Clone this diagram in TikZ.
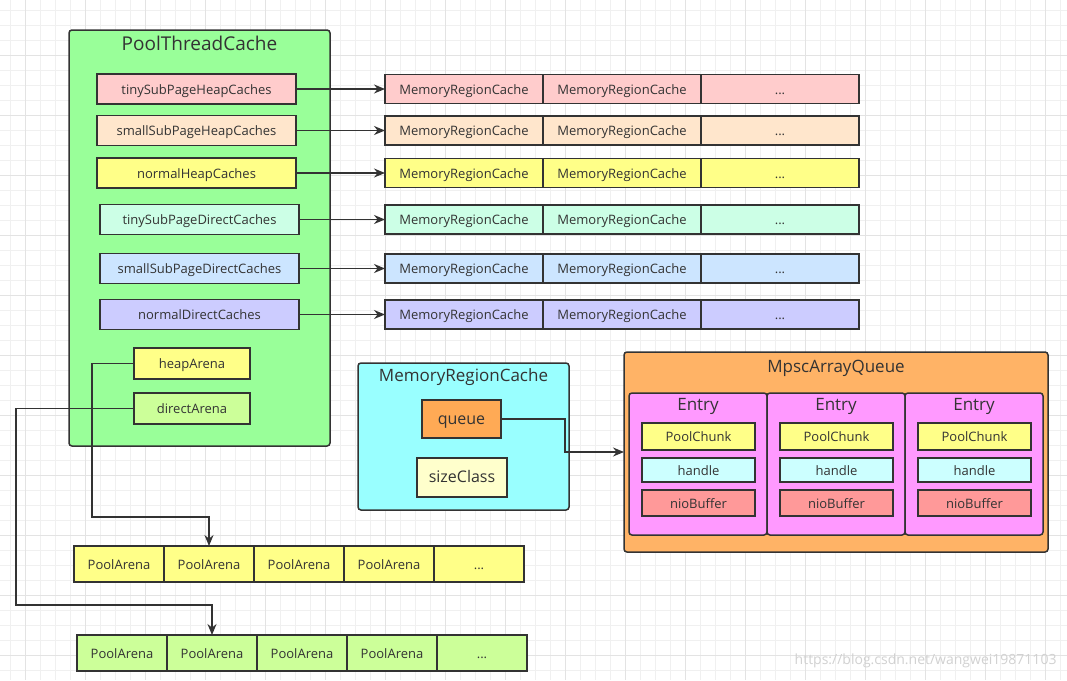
\documentclass[tikz,border=0pt]{standalone}
\usepackage{fontspec}
\setmainfont{Open Sans}
\usetikzlibrary{arrows.meta}

\definecolor{ink}{HTML}{333333}
\definecolor{gridminor}{HTML}{F0F0F0}
\definecolor{gridmajor}{HTML}{E3E3E3}
\definecolor{ptcgreen}{HTML}{99FF99}
\definecolor{tinyheap}{HTML}{FFCCCC}
\definecolor{smallheap}{HTML}{FFE6CC}
\definecolor{normyellow}{HTML}{FFFF88}
\definecolor{tinydirect}{HTML}{CCFFE6}
\definecolor{smalldirect}{HTML}{CCE5FF}
\definecolor{normdirect}{HTML}{CCCCFF}
\definecolor{arenagreen}{HTML}{CCFF99}
\definecolor{mrccyan}{HTML}{99FFFF}
\definecolor{queueorange}{HTML}{FFAA55}
\definecolor{mpscorange}{HTML}{FFB366}
\definecolor{entrypink}{HTML}{FF99FF}
\definecolor{handlecyan}{HTML}{CCFFFF}
\definecolor{niored}{HTML}{FF9999}
\definecolor{sizecream}{HTML}{FFFFCC}

\begin{document}
\begin{tikzpicture}[x=1pt, y=-1pt, >={Stealth[length=11pt,width=9pt]}, font=\fontsize{13}{15}\selectfont, text=ink]

\tikzset{
  base/.style={draw=ink, line width=1.5pt, anchor=north west, inner sep=0pt, outer sep=0pt, text height=1em, text depth=0em},
  fbox/.style={base, minimum width=199pt, minimum height=30pt},
  cell/.style={base, minimum width=158pt, minimum height=29pt},
  arena/.style={base, minimum width=90pt, minimum height=36pt},
  group/.style={base, rounded corners=3pt},
  slot/.style={base, minimum width=113pt},
  ttl/.style={font=\fontsize{17}{20}\selectfont, text height=0.86em, text depth=0.14em},
  arr/.style={->, draw=ink, line width=1.5pt}
}

% --- Fundo com grelha ---
\useasboundingbox (0,0) rectangle (1067,680);
\fill[white] (0,0) rectangle (1067,680);
\foreach \gx in {0,...,70} \draw[gridminor, line width=0.8pt] ({10.7+15*\gx},0) -- ({10.7+15*\gx},680);
\foreach \gy in {0,...,44} \draw[gridminor, line width=0.8pt] (0,{10.5+15*\gy}) -- (1067,{10.5+15*\gy});
\foreach \gx in {0,...,17} \draw[gridmajor, line width=0.8pt] ({25.7+60*\gx},0) -- ({25.7+60*\gx},680);
\foreach \gy in {0,...,10} \draw[gridmajor, line width=0.8pt] (0,{55.5+60*\gy}) -- (1067,{55.5+60*\gy});

% --- PoolThreadCache ---
\node[group, fill=ptcgreen, minimum width=261pt, minimum height=416pt] (ptc) at (69,30) {};
\node[ttl, font=\fontsize{19}{22}\selectfont] (ptcT) at (199.5,47) {PoolThreadCache};

\node[fbox, fill=tinyheap] (tinyH) at (97,74) {tinySubPageHeapCaches};
\node[fbox, fill=smallheap] (smallH) at (97,115.5) {smallSubPageHeapCaches};
\node[fbox, fill=normyellow] (normH) at (97,158) {normalHeapCaches};
\node[fbox, fill=tinydirect] (tinyD) at (100,204.5) {tinySubPageDirectCaches};
\node[fbox, fill=smalldirect] (smallD) at (100,253.5) {smallSubPageDirectCaches};
\node[fbox, fill=normdirect] (normD) at (100,299.5) {normalDirectCaches};

\node[base, fill=normyellow, minimum width=116pt, minimum height=31pt] (heapA) at (134,348) {heapArena};
\node[base, fill=arenagreen, minimum width=116pt, minimum height=31pt] (directA) at (134,393) {directArena};

% --- Arrays de MemoryRegionCache ---
\node[cell, fill=tinyheap] (r1a) at (385,74.5) {MemoryRegionCache};
\node[cell, fill=tinyheap] (r1b) at (543,74.5) {MemoryRegionCache};
\node[cell, fill=tinyheap] (r1c) at (701,74.5) {...};

\node[cell, fill=smallheap] (r2a) at (385,116) {MemoryRegionCache};
\node[cell, fill=smallheap] (r2b) at (543,116) {MemoryRegionCache};
\node[cell, fill=smallheap] (r2c) at (701,116) {...};

\node[cell, fill=normyellow] (r3a) at (385,158.5) {MemoryRegionCache};
\node[cell, fill=normyellow] (r3b) at (543,158.5) {MemoryRegionCache};
\node[cell, fill=normyellow] (r3c) at (701,158.5) {...};

\node[cell, fill=tinydirect] (r4a) at (385,205) {MemoryRegionCache};
\node[cell, fill=tinydirect] (r4b) at (543,205) {MemoryRegionCache};
\node[cell, fill=tinydirect] (r4c) at (701,205) {...};

\node[cell, fill=smalldirect] (r5a) at (385,254) {MemoryRegionCache};
\node[cell, fill=smalldirect] (r5b) at (543,254) {MemoryRegionCache};
\node[cell, fill=smalldirect] (r5c) at (701,254) {...};

\node[cell, fill=normdirect] (r6a) at (385,300) {MemoryRegionCache};
\node[cell, fill=normdirect] (r6b) at (543,300) {MemoryRegionCache};
\node[cell, fill=normdirect] (r6c) at (701,300) {...};

% --- MemoryRegionCache (detalhe) ---
\node[group, fill=mrccyan, minimum width=211pt, minimum height=147pt] (mrc) at (358,363) {};
\node[ttl] (mrcT) at (463.5,377.5) {MemoryRegionCache};
\node[base, fill=queueorange, minimum width=79pt, minimum height=38pt, font=\fontsize{16}{19}\selectfont] (queue) at (422,400) {queue};
\node[base, fill=sizecream, minimum width=90pt, minimum height=39pt, font=\fontsize{16}{19}\selectfont] (sizeC) at (417,458) {sizeClass};

% --- MpscArrayQueue ---
\node[group, fill=mpscorange, minimum width=424pt, minimum height=200pt] (mpsc) at (624,352) {};
\node[ttl] (mpscT) at (836,368.5) {MpscArrayQueue};

\node[group, fill=entrypink, minimum width=138pt, minimum height=142pt] (ent1) at (629,393) {};
\node[group, fill=entrypink, minimum width=138pt, minimum height=142pt] (ent2) at (767,393) {};
\node[group, fill=entrypink, minimum width=138pt, minimum height=142pt] (ent3) at (905,393) {};
\node[ttl] (ent1T) at (698,406.5) {Entry};
\node[ttl] (ent2T) at (836,406.5) {Entry};
\node[ttl] (ent3T) at (974,406.5) {Entry};

\node[slot, fill=normyellow, minimum height=27pt] (chunk1) at (642,423) {PoolChunk};
\node[slot, fill=handlecyan, minimum height=24pt] (handle1) at (642,458) {handle};
\node[slot, fill=niored, minimum height=26pt] (nio1) at (642,490) {nioBuffer};

\node[slot, fill=normyellow, minimum height=27pt] (chunk2) at (780,423) {PoolChunk};
\node[slot, fill=handlecyan, minimum height=24pt] (handle2) at (780,458) {handle};
\node[slot, fill=niored, minimum height=26pt] (nio2) at (780,490) {nioBuffer};

\node[slot, fill=normyellow, minimum height=27pt] (chunk3) at (918,423) {PoolChunk};
\node[slot, fill=handlecyan, minimum height=24pt] (handle3) at (918,458) {handle};
\node[slot, fill=niored, minimum height=26pt] (nio3) at (918,490) {nioBuffer};

% --- Arrays de PoolArena ---
\node[arena, fill=normyellow] (pa1a) at (74,546) {PoolArena};
\node[arena, fill=normyellow] (pa1b) at (164,546) {PoolArena};
\node[arena, fill=normyellow] (pa1c) at (254,546) {PoolArena};
\node[arena, fill=normyellow] (pa1d) at (344,546) {PoolArena};
\node[arena, fill=normyellow] (pa1e) at (434,546) {...};

\node[arena, fill=arenagreen] (pa2a) at (77,635) {PoolArena};
\node[arena, fill=arenagreen] (pa2b) at (167,635) {PoolArena};
\node[arena, fill=arenagreen] (pa2c) at (257,635) {PoolArena};
\node[arena, fill=arenagreen] (pa2d) at (347,635) {PoolArena};
\node[arena, fill=arenagreen] (pa2e) at (437,635) {...};

% --- Setas ---
\draw[arr] (tinyH) -- (r1a);
\draw[arr] (smallH) -- (r2a);
\draw[arr] (normH) -- (r3a);
\draw[arr] (tinyD) -- (r4a);
\draw[arr] (smallD) -- (r5a);
\draw[arr] (normD) -- (r6a);

\coordinate (hbend) at (92,517);
\coordinate (dbend) at (16,605);
\coordinate (qbend) at (565,452);

\draw[arr] (heapA.west) -| (hbend) -| (pa1b.north);
\draw[arr] (directA.west) -| (dbend) -| (pa2b.north);
\draw[arr] (queue.east) -| (qbend) -- (mpsc.west);

% marca de agua
\node[anchor=east, text=black!18, font=\fontsize{14}{16}\selectfont] (wmark) at (1060,661) {https://blog.csdn.net/wangwei19871103};

\end{tikzpicture}
\end{document}
